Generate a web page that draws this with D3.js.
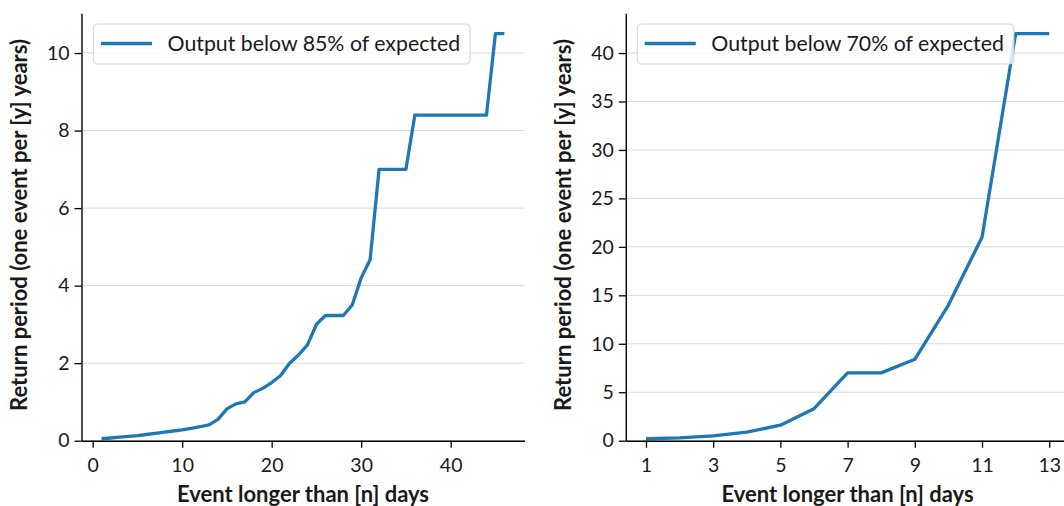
<!DOCTYPE html>
<html>
<head>
<meta charset="utf-8">
<script src="https://cdn.jsdelivr.net/npm/d3@7"></script>
<style>
  html, body { margin: 0; padding: 0; background: #fff; }
  svg { display: block; }
  text { font-family: Lato, "Open Sans", sans-serif; fill: #1a1a1a; }
</style>
</head>
<body>
<svg id="chart" width="1064" height="506"></svg>
<script>
// Return period of low-output events, by minimum event length
const days85 = [1,2,3,4,5,6,7,8,9,10,11,12,13,14,15,16,17,18,19,20,21,22,23,24,25,26,27,28,29,30,31,32,33,34,35,36,37,38,39,40,41,42,43,44,45,46];
const returnPeriod85 = [0.05,0.07,0.09,0.11,0.13,0.16,0.19,0.22,0.25,0.28,0.32,0.36,0.41,
  0.55,0.82,0.95,1.0,1.24,1.35,1.5,1.68,2.0,2.21,2.47,3.0,3.23,3.23,3.23,3.5,4.2,4.67,
  7.0,7.0,7.0,7.0,8.4,8.4,8.4,8.4,8.4,8.4,8.4,8.4,8.4,10.5,10.5];

const days70 = [1,2,3,4,5,6,7,8,9,10,11,12,13];
const returnPeriod70 = [0.2,0.3,0.5,0.88,1.6,3.3,7.0,7.0,8.4,14,21,42,42];

const xTicks85 = [0,10,20,30,40];
const yTicks85 = [0,2,4,6,8,10];
const xTicks70 = [1,3,5,7,9,11,13];
const yTicks70 = [0,5,10,15,20,25,30,35,40];

const legend85 = "Output below 85% of expected";
const legend70 = "Output below 70% of expected";
const xLabel = "Event longer than [n] days";
const yLabel = "Return period (one event per [y] years)";

const lineColor = "#1f77b4";
const svg = d3.select("#chart");

function panel(opts) {
  const { left, width, top, height, xs, ys, xTicks, yTicks, legendText } = opts;
  const g = svg.append("g");

  // x domain padded 5% on each side, y from zero to 5% above the maximum
  const [x0, x1] = d3.extent(xs);
  const pad = (x1 - x0) * 0.05;
  const x = d3.scaleLinear().domain([x0 - pad, x1 + pad]).range([left, left + width]);
  const y = d3.scaleLinear().domain([0, d3.max(ys) * 1.05]).range([top + height, top]);

  // horizontal grid
  g.append("g").selectAll("line").data(yTicks).join("line")
    .attr("x1", left).attr("x2", left + width)
    .attr("y1", d => y(d)).attr("y2", d => y(d))
    .attr("stroke", "#d9d9d9").attr("stroke-width", 1);

  // series line
  const pts = xs.map((d, i) => [d, ys[i]]);
  g.append("path").datum(pts)
    .attr("fill", "none").attr("stroke", lineColor).attr("stroke-width", 3.3)
    .attr("stroke-linejoin", "round").attr("stroke-linecap", "butt")
    .attr("d", d3.line().x(d => x(d[0])).y(d => y(d[1])));

  // axes
  const xAxis = g.append("g").attr("transform", `translate(0,${top + height})`)
    .call(d3.axisBottom(x).tickValues(xTicks).tickSizeInner(7).tickSizeOuter(0).tickPadding(10));
  const yAxis = g.append("g").attr("transform", `translate(${left},0)`)
    .call(d3.axisLeft(y).tickValues(yTicks).tickSizeInner(7).tickSizeOuter(0).tickPadding(5));
  [xAxis, yAxis].forEach(a => {
    a.select(".domain").attr("stroke", "#000").attr("stroke-width", 1.4);
    a.selectAll(".tick line").attr("stroke", "#000").attr("stroke-width", 1.3);
    a.selectAll(".tick text").attr("font-size", 19.5).attr("fill", "#1a1a1a")
      .style("font-family", "Lato, 'Open Sans', sans-serif");
  });

  // axis titles
  g.append("text").attr("x", left + width / 2).attr("y", 502)
    .attr("text-anchor", "middle").attr("font-size", 22).attr("font-weight", "bold")
    .text(xLabel);
  g.append("text")
    .attr("transform", `translate(${opts.yLabelX},225) rotate(-90)`)
    .attr("text-anchor", "middle").attr("font-size", 22).attr("font-weight", "bold")
    .text(yLabel);

  // legend
  const lx = left + opts.legendOffset, ly = 24;
  const lg = g.append("g");
  const box = lg.append("rect").attr("x", lx).attr("y", ly).attr("height", 40)
    .attr("rx", 4).attr("fill", "#fff").attr("fill-opacity", 0.8)
    .attr("stroke", "#d6d6d6").attr("stroke-width", 1);
  lg.append("line").attr("x1", lx + 7.5).attr("x2", lx + 58.5)
    .attr("y1", ly + 19.5).attr("y2", ly + 19.5)
    .attr("stroke", lineColor).attr("stroke-width", 3.3);
  const t = lg.append("text").attr("x", lx + 74).attr("y", ly + 26.5)
    .attr("font-size", 21.3).text(legendText);
  box.attr("width", 74 + t.node().getComputedTextLength() + 10);
}

panel({ left: 81.5, width: 443, top: 13.3, height: 427.4,
  xs: days85, ys: returnPeriod85, xTicks: xTicks85, yTicks: yTicks85,
  legendText: legend85, legendOffset: 12, yLabelX: 27 });
panel({ left: 625.8, width: 443.6, top: 13.3, height: 427.4,
  xs: days70, ys: returnPeriod70, xTicks: xTicks70, yTicks: yTicks70,
  legendText: legend70, legendOffset: 11.5, yLabelX: 571 });
</script>
</body>
</html>
